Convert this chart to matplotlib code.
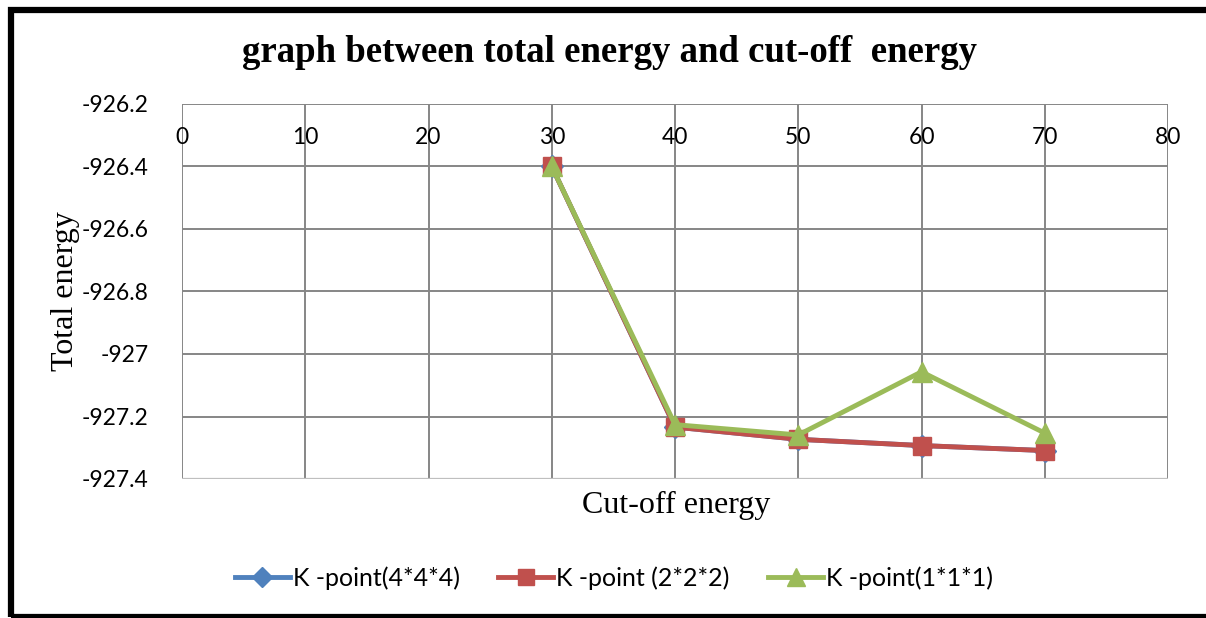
import matplotlib
matplotlib.use("Agg")
import matplotlib.pyplot as plt
from matplotlib.patches import Rectangle
import matplotlib.transforms as mtransforms

cutoff = [30, 40, 50, 60, 70]
k444 = [-926.40, -927.234, -927.273, -927.293, -927.309]
k222 = [-926.40, -927.234, -927.273, -927.293, -927.309]
k111 = [-926.40, -927.226, -927.259, -927.057, -927.253]
x_ticks = [0, 10, 20, 30, 40, 50, 60, 70, 80]
y_ticks = [-926.2, -926.4, -926.6, -926.8, -927.0, -927.2, -927.4]
y_labels = ["-926.2", "-926.4", "-926.6", "-926.8", "-927", "-927.2", "-927.4"]
labels = ["K -point(4*4*4)", "K -point (2*2*2)", "K -point(1*1*1)"]

W, H = 1206, 618
fig = plt.figure(figsize=(W / 100, H / 100), dpi=100)
fig.patch.set_facecolor("white")

# outer chart border
fig.patches.append(Rectangle((11 / W, 1.5 / H), 1.2, (H - 10) / H - 1.5 / H,
                             transform=fig.transFigure, fill=False,
                             edgecolor="black", linewidth=4.5, zorder=0))

ax = fig.add_axes([182 / W, 1 - 479 / H, (1168 - 182) / W, (479 - 104) / H])
ax.set_xlim(0, 80)
ax.set_ylim(-927.4, -926.2)

grid_c = "#868686"
for yv in y_ticks:
    ax.axhline(yv, color=grid_c, lw=1.4, zorder=1)
for xv in x_ticks:
    ax.axvline(xv, color=grid_c, lw=1.4, zorder=1)
ax.axhline(-927.4, color="#bfbfbf", lw=1.6, zorder=1)

for s in ax.spines.values():
    s.set_visible(False)

ax.set_xticks([])
ax.set_yticks(y_ticks)
ax.set_yticklabels(y_labels, fontsize=16.5, family="Lato")
ax.tick_params(axis="y", length=0, pad=24)

trans = mtransforms.blended_transform_factory(ax.transData, ax.transAxes)
for xv in x_ticks:
    ax.text(xv, 1 - 34 / 375, str(xv), transform=trans, ha="center", va="center",
            fontsize=16.5, family="Lato", zorder=2)

ax.plot(cutoff, k444, color="#4F81BD", lw=3.5, marker="D", markersize=11,
        markeredgecolor="#4F81BD", zorder=3, label=labels[0])
ax.plot(cutoff, k222, color="#C0504D", lw=3.5, marker="s", markersize=13,
        markeredgecolor="#C0504D", zorder=4, label=labels[1])
ax.plot(cutoff, k111, color="#9BBB59", lw=3.5, marker="^", markersize=15,
        markeredgecolor="#9BBB59", zorder=5, label=labels[2])

fig.text(610 / W, 1 - 52 / H, "graph between total energy and cut-off  energy",
         ha="center", va="center", fontsize=26.5, fontweight="bold",
         family="Liberation Serif")
fig.text(66 / W, 1 - 291 / H, "Total energy", rotation=90, ha="center",
         va="center", fontsize=23, family="Liberation Serif")
fig.text(676 / W, 1 - 505 / H, "Cut-off energy", ha="center", va="center",
         fontsize=23, family="Liberation Serif")

leg = fig.legend(loc="center", bbox_to_anchor=(614 / W, 1 - 578 / H), ncol=3,
                 frameon=False, prop={"family": "Lato", "size": 18},
                 handlelength=2.2, columnspacing=1.55, handletextpad=0.12,
                 markerscale=0.9)

fig.savefig("out.png", dpi=100)
